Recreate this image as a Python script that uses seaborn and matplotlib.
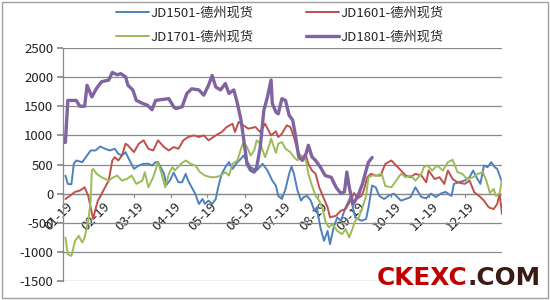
import matplotlib
matplotlib.use("Agg")
import matplotlib.pyplot as plt
import matplotlib.transforms as mtransforms
from matplotlib.patches import Rectangle
import seaborn as sns
import numpy as np

# ---- data (x = day of year) ----
jd1501_day = [2, 4, 7, 9, 11, 16, 20, 23, 27, 31, 35, 39, 43, 46, 49, 52, 54, 59, 63, 67, 71, 74, 77, 79,
              84, 86, 89, 92, 96, 99, 102, 104, 107, 110, 113, 116, 118, 121, 124, 127, 129, 132, 135, 138,
              141, 145, 148, 150, 156, 161, 166, 170, 174, 177, 179, 182, 185, 188, 190, 192, 195, 198, 200,
              203, 206, 209, 211, 214, 217, 220, 222, 225, 228, 231, 235, 239, 243, 248, 252, 254, 257, 260,
              263, 267, 271, 275, 281, 285, 289, 293, 298, 302, 306, 310, 314, 318, 323, 325, 329, 334, 338,
              341, 343, 347, 350, 353, 356, 359, 361, 364, 365]
jd1501_val = [310, 167, 160, 512, 569, 540, 655, 741, 741, 810, 770, 741, 770, 683, 655, 713, 626, 425, 483,
              512, 512, 483, 540, 540, 340, 150, 230, 360, 195, 195, 340, 224, 109, -5, -178, -92, -178, -120,
              -178, -92, 109, 340, 454, 540, 425, 540, 600, 655, 454, 397, 512, 397, 224, 138, -40, -92, 80,
              340, 466, 340, 52, -120, -60, -40, -120, -293, -236, -580, -810, -640, -868, -580, -408, -465,
              -236, -60, -408, -465, -437, -236, 138, 109, -40, -92, -34, 0, -120, -92, -60, 109, -60, -80,
              0, -60, 0, 30, -40, 167, 195, 224, 282, 397, 310, 167, 483, 454, 540, 454, 425, 253, 195]

jd1601_day = [2, 6, 10, 14, 18, 21, 23, 25, 27, 29, 32, 35, 38, 41, 43, 46, 49, 52, 54, 59, 63, 67, 71, 75,
              79, 84, 88, 92, 96, 100, 104, 109, 113, 117, 121, 127, 132, 136, 141, 143, 146, 150, 154, 160,
              164, 168, 173, 177, 179, 182, 186, 189, 192, 195, 198, 202, 204, 207, 210, 213, 216, 220, 222,
              227, 231, 235, 239, 242, 245, 248, 250, 253, 256, 260, 264, 268, 273, 277, 281, 285, 289, 293,
              298, 302, 304, 309, 313, 317, 320, 324, 328, 334, 338, 342, 346, 350, 354, 358, 361, 363, 365]
jd1601_val = [-92, -34, 30, 52, 109, -40, -236, -437, -265, -120, -10, 109, 224, 569, 626, 569, 655, 857,
              828, 713, 857, 914, 770, 741, 914, 799, 741, 799, 770, 914, 971, 1000, 971, 1000, 914, 1000,
              1057, 1143, 1200, 1057, 1230, 1172, 1115, 1143, 1057, 1200, 1000, 1070, 971, 1029, 1172, 1143,
              971, 741, 626, 655, 512, 397, 340, 109, -40, -236, -408, -380, -293, -265, -120, 10, -80, -40,
              50, 282, 340, 310, 310, 512, 569, 483, 397, 310, 282, 340, 310, 195, 397, 250, 282, 167, 397,
              250, 195, 167, 224, 22, -40, -120, -236, -265, -180, 0, -350]

jd1701_day = [2, 4, 7, 10, 13, 16, 18, 21, 23, 24, 25, 28, 32, 38, 42, 45, 49, 53, 57, 61, 66, 68, 71, 75,
              79, 82, 85, 88, 91, 93, 98, 102, 106, 110, 114, 118, 123, 127, 131, 135, 138, 141, 145, 148,
              150, 153, 156, 159, 161, 164, 168, 171, 173, 177, 179, 182, 185, 189, 192, 195, 198, 202, 204,
              207, 210, 213, 216, 218, 221, 224, 228, 232, 235, 238, 241, 243, 246, 249, 252, 254, 257, 261,
              265, 268, 273, 277, 281, 285, 289, 293, 298, 300, 303, 307, 311, 316, 320, 324, 328, 332, 336,
              341, 345, 349, 352, 355, 358, 360, 363, 365]
jd1701_val = [-753, -1040, -1069, -811, -724, -839, -753, -465, -120, 397, 425, 340, 282, 224, 282, 310, 224,
              250, 310, 167, 224, 368, 109, 282, 540, 340, 109, 340, 454, 397, 512, 569, 512, 483, 368, 310,
              282, 282, 310, 368, 310, 512, 569, 770, 885, 799, 655, 741, 914, 857, 626, 799, 943, 700, 857,
              885, 770, 713, 626, 569, 655, 569, 340, 138, -40, -120, -265, -465, -580, -523, -640, -695,
              -610, -753, -580, -465, -408, -236, -40, 282, 310, 310, 340, 130, 109, 224, 340, 282, 310, 224,
              340, 454, 483, 397, 483, 397, 540, 580, 368, 340, 250, 282, 340, 368, 224, 10, 80, -40, 0, 253]

jd1801_day = [0, 2, 4, 11, 14, 18, 20, 24, 28, 32, 38, 41, 45, 48, 52, 54, 58, 61, 66, 70, 74, 77, 82, 88,
              92, 94, 99, 103, 107, 113, 117, 121, 124, 127, 131, 135, 138, 142, 145, 148, 150, 153, 156, 159,
              161, 164, 167, 170, 173, 174, 177, 179, 182, 185, 188, 191, 193, 196, 199, 202, 204, 207, 210,
              214, 218, 223, 227, 231, 234, 236, 238, 241, 243, 246, 249, 252, 254, 257]
jd1801_val = [880, 880, 1600, 1600, 1500, 1500, 1860, 1660, 1810, 1920, 1950, 2080, 2040, 2060, 2005, 1860,
              1780, 1600, 1550, 1520, 1440, 1600, 1615, 1630, 1490, 1460, 1490, 1720, 1800, 1780, 1690, 1860,
              2030, 1830, 1780, 1890, 1720, 1780, 1550, 1260, 970, 510, 400, 370, 450, 800, 1430, 1660, 1950,
              1550, 1400, 1370, 1630, 1600, 1345, 1260, 1030, 630, 570, 680, 830, 630, 570, 455, 310, 280,
              110, 5, 30, 370, 110, -180, -120, 0, 170, 400, 540, 620]

month_start = [0, 31, 59, 90, 120, 151, 181, 212, 243, 273, 304, 334]
month_labels = ["01-19", "02-19", "03-19", "04-19", "05-19", "06-19",
                "07-19", "08-19", "09-19", "10-19", "11-19", "12-19"]
y_ticks = [-1500, -1000, -500, 0, 500, 1000, 1500, 2000, 2500]

series = [
    ("JD1501-德州现货", jd1501_day, jd1501_val, "#4F81BD", 1.4),
    ("JD1601-德州现货", jd1601_day, jd1601_val, "#C0504D", 1.4),
    ("JD1701-德州现货", jd1701_day, jd1701_val, "#9BBB59", 1.4),
    ("JD1801-德州现货", jd1801_day, jd1801_val, "#8064A2", 2.4),
]

sns.set_theme(style="white")
plt.rcParams["font.family"] = ["Noto Sans CJK SC", "DejaVu Sans"]

fig = plt.figure(figsize=(5.5, 3.0), dpi=100)
fig.patch.set_facecolor("white")
ax = fig.add_axes([63 / 550, 1 - 281 / 300, (502 - 63) / 550, (281 - 48) / 300])

handles = {}
for name, d, v, c, lw in series:
    sns.lineplot(x=d, y=v, ax=ax, color=c, linewidth=lw, label=name, legend=False)
    handles[name] = ax.get_lines()[-1]

ax.set_xlim(0, 365)
ax.set_ylim(-1500, 2500)
ax.set_yticks(y_ticks)
ax.set_yticklabels([str(t) for t in y_ticks], fontsize=9.5, color="#222222")
ax.yaxis.grid(True, color="#8A8A8A", linewidth=0.9)
ax.xaxis.grid(False)
for s in ["top", "right", "bottom"]:
    ax.spines[s].set_visible(False)
ax.spines["left"].set_color("#8A8A8A")
ax.spines["left"].set_linewidth(0.9)
ax.axhline(0, color="#8A8A8A", linewidth=0.9, zorder=0.5)

ax.set_xticks(month_start)
ax.set_xticklabels(month_labels, fontsize=9.5, color="#222222",
                   rotation=45, ha="right", va="center", rotation_mode="anchor")
ax.tick_params(axis="x", direction="out", length=0, pad=4)
ax.tick_params(axis="y", direction="out", length=4, color="#8A8A8A", left=True, pad=3)
ax.set_xlabel("")
ax.set_ylabel("")

# x tick labels sit next to the zero line
for lab in ax.get_xticklabels():
    lab.set_transform(ax.get_xaxis_transform() +
                      mtransforms.ScaledTranslation(8 / 100, 0, fig.dpi_scale_trans))
    lab.set_y(0.375 - 0.045)
# small tick marks on zero line
for m in month_start:
    ax.plot([m, m], [0, -60], color="#8A8A8A", linewidth=0.9, clip_on=False, zorder=0.6)

order = ["JD1501-德州现货", "JD1701-德州现货", "JD1601-德州现货", "JD1801-德州现货"]
leg = fig.legend([handles[n] for n in order], order, ncol=2, frameon=False,
                 loc="upper left", bbox_to_anchor=(104 / 550, 1 + 5 / 300),
                 fontsize=9.5, handlelength=2.5, handletextpad=0.15,
                 columnspacing=3.9, labelspacing=0.8)

t1 = fig.text(377 / 550, 1 - 285 / 300, "CKEXC", color="#C00000", fontsize=17.8,
              fontweight="bold", family="DejaVu Sans", ha="left", va="baseline")
fig.canvas.draw()
bb = t1.get_window_extent(fig.canvas.get_renderer())
fig.text(bb.x1 / fig.bbox.width, 1 - 285 / 300, ".COM", color="#3A1A14", fontsize=17.8,
         fontweight="bold", family="DejaVu Sans", ha="left", va="baseline")

fig.patches.append(Rectangle((2 / 550, 2 / 300), 546 / 550, 296 / 300, transform=fig.transFigure,
                             fill=False, edgecolor="#A0A0A0", linewidth=1.0))

fig.savefig("out.png", dpi=100, facecolor="white")
